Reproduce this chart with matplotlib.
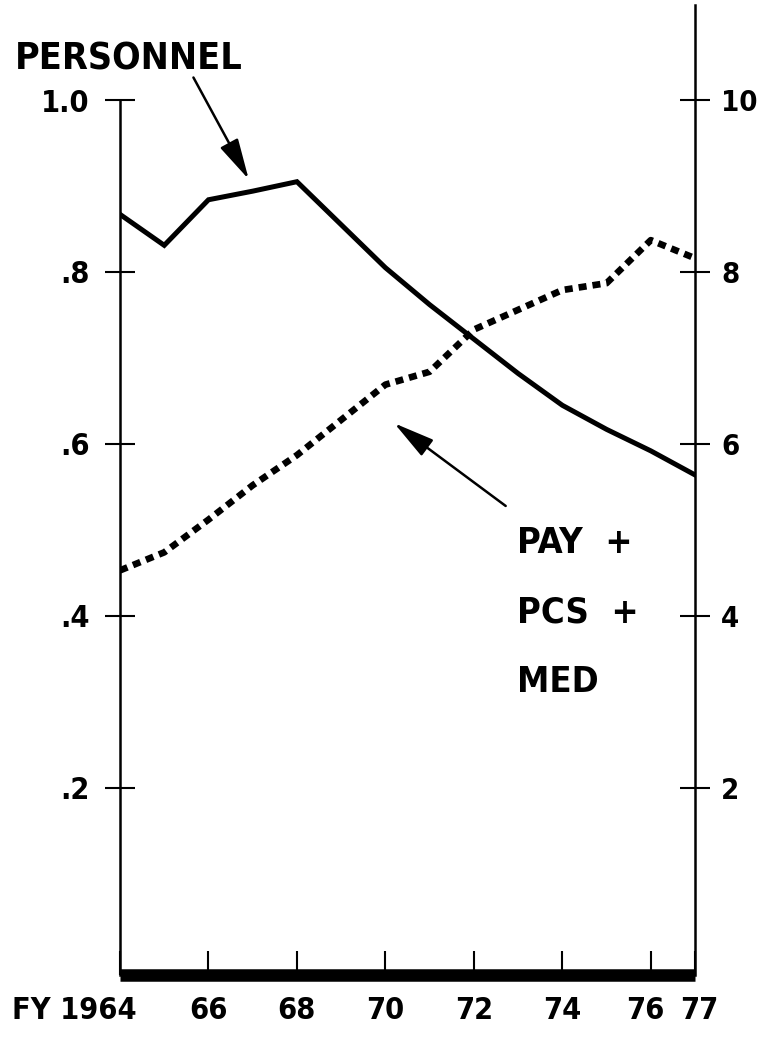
import matplotlib
matplotlib.use('Agg')
from matplotlib import pyplot as plt
from matplotlib.transforms import ScaledTranslation

plt.rcParams['font.family'] = ['DejaVu Sans']
plt.rcParams['font.weight'] = 'bold'
plt.rcParams['font.stretch'] = 'condensed'

# data
years = [1964, 1965, 1966, 1967, 1968, 1969, 1970, 1971, 1972, 1973, 1974, 1975, 1976, 1977]
personnel = [0.867, 0.831, 0.884, 0.894, 0.905, 0.855, 0.805, 0.762, 0.722, 0.682, 0.645, 0.617, 0.592, 0.564]
pay_pcs_med = [4.53, 4.74, 5.12, 5.52, 5.87, 6.28, 6.69, 6.84, 7.33, 7.56, 7.79, 7.87, 8.37, 8.16]

left_ticks = [0.2, 0.4, 0.6, 0.8, 1.0]
left_labels = ['.2', '.4', '.6', '.8', '1.0']
right_ticks = [2, 4, 6, 8, 10]
right_labels = ['2', '4', '6', '8', '10']
x_ticks = [1964, 1966, 1968, 1970, 1972, 1974, 1976, 1977]
x_labels = ['FY 1964', '66', '68', '70', '72', '74', '76', '77']

fig = plt.figure(figsize=(7.61, 10.37), dpi=100)
ax = fig.add_axes([0.1577, 0.0598, 0.7556, 0.9354])
ax.set_xlim(1964, 1977)
ax.set_ylim(-0.0175, 1.1105)

ax.plot(years, personnel, color='black', lw=3.6, solid_joinstyle='miter')

ax.spines['top'].set_visible(False)
ax.spines['right'].set_visible(False)
ax.spines['left'].set_bounds(-0.0175, 1.0)
ax.spines['left'].set_linewidth(1.8)
ax.spines['bottom'].set_linewidth(9)
ax.spines['bottom'].set_capstyle('butt')

ax.set_yticks(left_ticks)
ax.set_yticklabels(left_labels)
ax.tick_params(axis='y', direction='inout', length=21.6, width=1.5, pad=11, labelsize=22)
ax.set_xticks(x_ticks)
ax.set_xticklabels(x_labels)
ax.tick_params(axis='x', direction='in', length=17, width=1.5, pad=15, labelsize=22)
xl = ax.get_xticklabels()
xl[0].set_horizontalalignment('right')
xl[0].set_transform(xl[0].get_transform() + ScaledTranslation(0.17, 0, fig.dpi_scale_trans))
xl[-2].set_transform(xl[-2].get_transform() + ScaledTranslation(-0.05, 0, fig.dpi_scale_trans))
xl[-1].set_transform(xl[-1].get_transform() + ScaledTranslation(0.04, 0, fig.dpi_scale_trans))

ax2 = ax.twinx()
ax2.set_ylim(-0.175, 11.105)
ax2.plot(years, pay_pcs_med, color='black', lw=4.8, dashes=(1.2, 0.9), dash_capstyle='butt')
for s in ['top', 'left', 'bottom']:
    ax2.spines[s].set_visible(False)
ax2.spines['right'].set_linewidth(1.8)
ax2.set_yticks(right_ticks)
ax2.set_yticklabels(right_labels)
ax2.tick_params(axis='y', direction='inout', length=21.6, width=1.5, pad=8, labelsize=21)

# labels and arrows
arrow = dict(arrowstyle='-|>,head_length=0.9,head_width=0.22', color='black', lw=1.8, mutation_scale=28)
ax.text(1961.63, 1.035, 'PERSONNEL', fontsize=27, ha='left', va='baseline', clip_on=False)
ax.annotate('', xy=(1966.94, 0.905), xytext=(1965.63, 1.029), arrowprops=arrow)

ax.text(1972.98, 0.473, 'PAY  +', fontsize=26, ha='left', va='baseline')
ax.text(1972.98, 0.392, 'PCS  +', fontsize=26, ha='left', va='baseline')
ax.text(1972.98, 0.311, 'MED', fontsize=26, ha='left', va='baseline')
ax.annotate('', xy=(1970.15, 0.626), xytext=(1972.77, 0.526), arrowprops=arrow)

fig.savefig('out.png', dpi=100)
